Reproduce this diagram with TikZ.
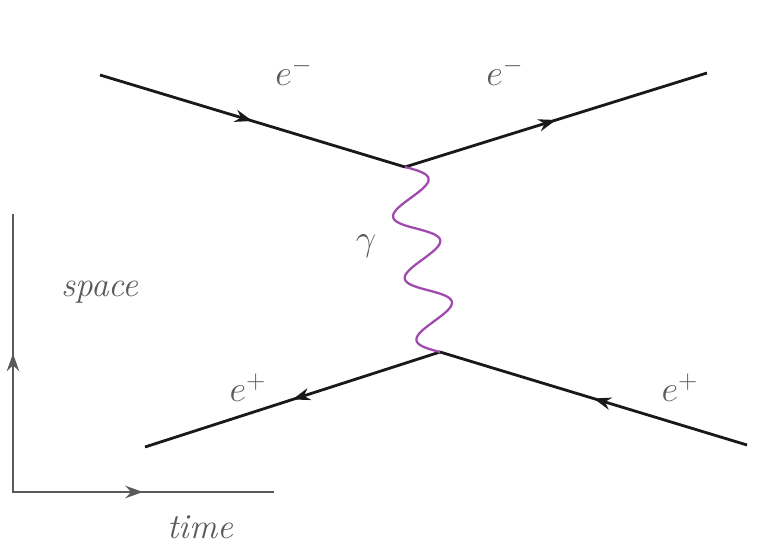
\documentclass[tikz,border=0pt]{standalone}
\usepackage{tikz}
\usetikzlibrary{arrows.meta,decorations.markings,calc}
\definecolor{phot}{HTML}{A04AAE}
\definecolor{lbgray}{HTML}{5A5A5A}
\tikzset{f/.style={line width=1.6pt,draw=black!90,postaction={decorate},decoration={markings,mark=at position .5 with {\arrow{Stealth[length=10pt,width=7pt]}}}},
 ax/.style={f,draw=lbgray,line cap=rect},
 ph/.style={draw=phot,line width=1.3pt,line join=round},
 lb/.style={text=lbgray,font=\fontsize{20}{24}\selectfont,inner sep=0pt}}
\begin{document}
\begin{tikzpicture}[x=0.02cm,y=-0.02cm]
\useasboundingbox (0,0) rectangle (763,543);
\coordinate (v1) at (405,167);\coordinate (v2) at (440,352);
\coordinate (a) at (100,75);\coordinate (b) at (707,73);\coordinate (c) at (145,447);\coordinate (d) at (747,445);
\coordinate (o) at (13,492);\coordinate (sp) at (13,215);\coordinate (tm) at (273,492);
\draw[f](a)--(v1);\draw[f](v1)--(b);\draw[f](v2)--(c);\draw[f](d)--(v2);
% photon: three periods of a sine between the vertices
\coordinate (q) at ($(v1)!0.42cm!90:(v2)$);\coordinate (n) at ($(q)-(v1)$);
\draw[ph] plot[domain=0:1,samples=121,variable=\t] ({$(v1)!\t!(v2)+{sin(1080*\t)}*(n)$});
\draw[ax](o)--(sp);\draw[ax](o)--(tm);
\node[lb](em1) at (294,72){$e^-$};\node[lb](em2) at (505,72){$e^-$};
\node[lb](g) at (366,246){$\gamma$};
\node[lb](ep1) at (248,388){$e^+$};\node[lb](ep2) at (680,388){$e^+$};
\node[lb](s) at (100,292){\itshape space};\node[lb](t) at (200,527){\itshape time};
\end{tikzpicture}
\end{document}
